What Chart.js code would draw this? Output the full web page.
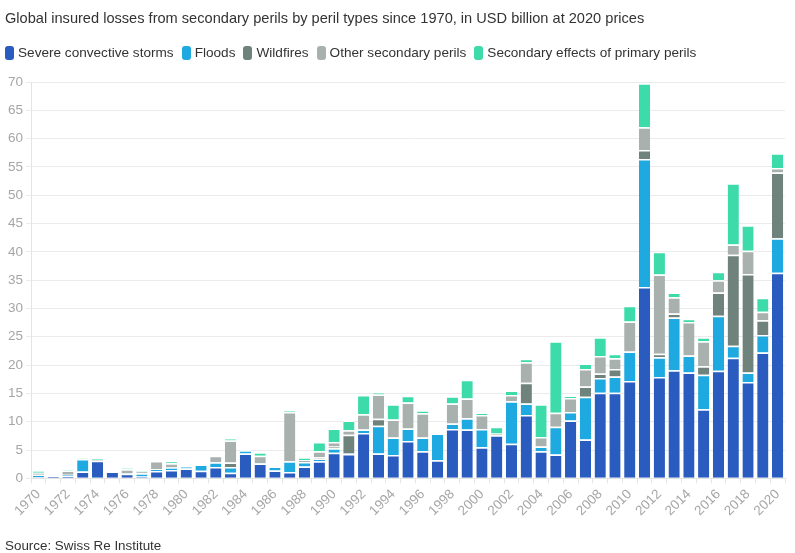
<!DOCTYPE html>
<html>
<head>
<meta charset="utf-8">
<script src="https://cdn.jsdelivr.net/npm/chart.js@4"></script>
<style>
  html, body { margin: 0; padding: 0; background: #fff; }
  body { font-family: 'Liberation Sans', Arial, sans-serif; color: #333; }
  #wrap { position: relative; width: 795px; height: 553px; }
  #perils { position: absolute; left: 0; top: 0; }
  .title { position: absolute; left: 5px; top: 10px; font-size: 14.6px; white-space: nowrap; }
  .legend { position: absolute; left: 5px; top: 45px; display: flex; font-size: 13.6px; white-space: nowrap; }
  .legend span.item { display: flex; align-items: center; margin-right: 8px; }
  .legend i { display: inline-block; width: 9px; height: 14px; border-radius: 3px; margin-right: 4px; }
  .source { position: absolute; left: 5px; top: 538px; font-size: 13.4px; }
</style>
</head>
<body>
<div id="wrap">
  <canvas id="perils" width="795" height="553"></canvas>
  <div class="title">Global insured losses from secondary perils by peril types since 1970, in USD billion at 2020 prices</div>
  <div class="legend" id="legend"></div>
  <div class="source">Source: Swiss Re Institute</div>
</div>
<script>
// years 1970..2020, USD bn at 2020 prices
const years = [];
for (let y = 1970; y <= 2020; y++) years.push(String(y));

const storms = [0.2,0.4,0.35,1.2,3.1,1.2,0.8,0.3,1.3,1.45,
  1.75,1.35,2.0,1.0,4.4,2.6,1.4,1.1,2.1,3.0,
  4.5,4.3,8.0,4.4,4.1,6.6,4.8,3.2,8.7,8.6,
  5.5,7.6,6.1,11.2,4.8,4.2,10.2,6.85,15.1,15.1,
  17.2,33.8,17.9,19.1,18.7,12.2,19.0,21.3,17.0,22.2,
  36.3];
const floods = [0.45,0,0.3,2.2,0,0,0.1,0.6,0.35,0.45,
  0.3,1.1,0.85,1.0,0.55,0.1,0.7,1.9,0.8,0.5,
  0.8,0.1,0.6,4.9,3.1,2.2,2.4,4.7,1.0,2.0,
  3.2,0,7.5,2.0,0.8,4.9,1.5,7.55,2.6,2.9,
  5.2,22.6,3.5,9.3,3.0,6.1,9.7,2.1,1.7,3.1,
  6.1];
const wildfires = [0,0,0,0,0,0,0,0,0,0,
  0,0,0,0.8,0,0,0,0,0,0.2,
  0.3,3.3,0,1.2,0,0,0,0,0,0,
  0,0,0,3.7,0,0,0,1.8,0.8,1.3,
  0,1.6,0.6,0.7,0,1.5,4.1,16.1,17.4,2.6,
  11.6];
const otherPerils = [0.35,0,0.75,0,0.2,0,0.7,0.3,1.4,0.75,
  0,0,1.15,3.9,0,1.3,0,8.7,0.3,1.1,
  0.8,0.8,2.7,4.3,3.2,4.6,4.3,0,3.5,3.5,
  2.5,0.3,1.1,3.6,1.7,2.5,2.5,3.1,3.1,1.9,
  5.3,4.0,14.0,2.9,5.9,4.4,2.2,1.8,4.1,1.5,
  0.8];
const secondary = [0.3,0,0.1,0.1,0.2,0,0.2,0.2,0.05,0.4,
  0,0,0,0.3,0,0.6,0,0.2,0.5,1.6,
  2.4,1.7,3.4,0.4,2.7,1.2,0.5,0,1.3,3.3,
  0.3,1.2,0.8,0.6,5.8,12.6,0.3,1.0,3.3,0.8,
  2.8,7.8,4.0,0.8,0.6,0.7,1.5,10.8,4.5,2.5,
  2.6];

const seriesNames = ["Severe convective storms", "Floods", "Wildfires", "Other secondary perils", "Secondary effects of primary perils"];
const seriesColors = ["#2a5bbf", "#1eaae0", "#6f827c", "#a8b1ae", "#3ddbaa"];
const yTicks = [0, 5, 10, 15, 20, 25, 30, 35, 40, 45, 50, 55, 60, 65, 70];

const FONT = "'Liberation Sans', Arial, sans-serif";
const grey = "#a6a6a6";

// html legend
const legendEl = document.getElementById("legend");
seriesNames.forEach((name, i) => {
  const item = document.createElement("span");
  item.className = "item";
  const sw = document.createElement("i");
  sw.style.background = seriesColors[i];
  item.appendChild(sw);
  item.appendChild(document.createTextNode(name));
  legendEl.appendChild(item);
});

const datasets = [storms, floods, wildfires, otherPerils, secondary].map((vals, i) => ({
  label: seriesNames[i],
  data: vals,
  backgroundColor: seriesColors[i],
  borderColor: "#ffffff",
  borderWidth: { top: 1.5, bottom: 0, left: 0, right: 0 },
  borderSkipped: false,
  categoryPercentage: 1,
  barPercentage: 0.76
}));

new Chart(document.getElementById("perils"), {
  type: "bar",
  data: { labels: years, datasets: datasets },
  options: {
    responsive: false,
    animation: false,
    layout: { padding: { left: 5, right: 10, top: 82, bottom: 31 } },
    plugins: {
      legend: { display: false },
      tooltip: { enabled: false }
    },
    scales: {
      x: {
        stacked: true,
        grid: { display: true, drawOnChartArea: false, color: "#e4e4e4", tickLength: 5 },
        border: { color: "#e4e4e4" },
        ticks: {
          autoSkip: false,
          maxRotation: 45,
          minRotation: 45,
          color: grey,
          font: { family: FONT, size: 13.5 },
          callback: (v, i) => (i % 2 === 0 ? years[i] : "")
        }
      },
      y: {
        stacked: true,
        min: 0,
        max: 70,
        afterBuildTicks: (axis) => { axis.ticks = yTicks.map(v => ({ value: v })); },
        grid: { color: "#ebebeb", tickLength: 5 },
        border: { color: "#e4e4e4" },
        ticks: {
          color: grey,
          padding: 3,
          font: { family: FONT, size: 13.5 }
        }
      }
    }
  }
});
</script>
</body>
</html>
